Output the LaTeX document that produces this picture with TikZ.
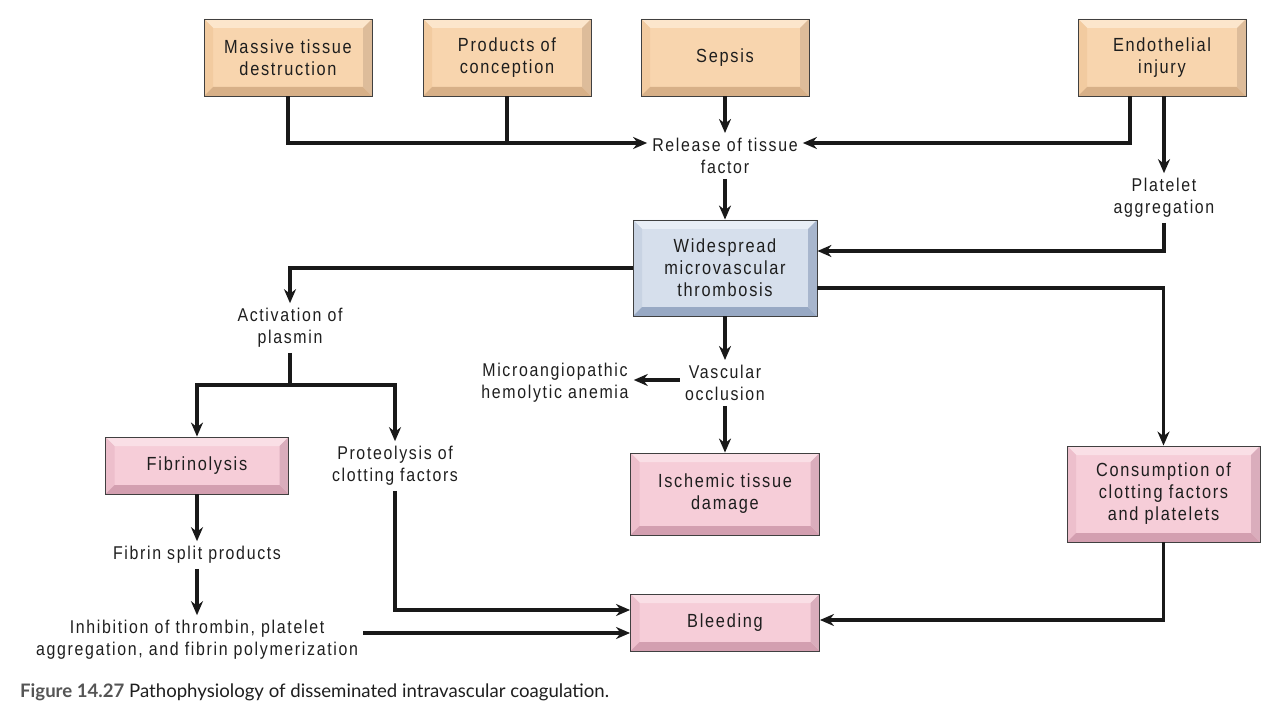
\documentclass[tikz,border=0pt]{standalone}
\usepackage{fontspec}
\setmainfont{Liberation Sans}[FakeStretch=0.86, LetterSpace=9]
\newfontfamily\capfont{Lato}
\usetikzlibrary{arrows.meta}
\definecolor{txt}{HTML}{1E1E1E}
\definecolor{tanF}{HTML}{F8D5AE}\definecolor{tanL}{HTML}{FCE6CC}\definecolor{tanM}{HTML}{F2CBA0}\definecolor{tanD}{HTML}{D7B088}
\definecolor{bluF}{HTML}{D6DFEC}\definecolor{bluL}{HTML}{E8EEF6}\definecolor{bluM}{HTML}{C8D3E3}\definecolor{bluD}{HTML}{98A9C4}
\definecolor{pnkF}{HTML}{F6CDD8}\definecolor{pnkL}{HTML}{FADFE6}\definecolor{pnkM}{HTML}{EDBFCC}\definecolor{pnkD}{HTML}{D39FB0}
\definecolor{capgray}{HTML}{555555}
\tikzset{
  bev/.style n args={4}{rectangle, draw=black!75, line width=0.9pt, fill=#1, text=txt, align=center,
    inner sep=0pt, font=\fontsize{19}{22}\selectfont,
    path picture={
      \coordinate (NW) at (path picture bounding box.north west);
      \coordinate (NE) at (path picture bounding box.north east);
      \coordinate (SW) at (path picture bounding box.south west);
      \coordinate (SE) at (path picture bounding box.south east);
      \fill[#2] (NW) -- (NE) -- ([shift={(-9pt,-9pt)}]NE) -- ([shift={(9pt,-9pt)}]NW) -- cycle;
      \fill[#3] (NW) -- ([shift={(9pt,-9pt)}]NW) -- ([shift={(9pt,9pt)}]SW) -- (SW) -- cycle;
      \fill[#4] (SW) -- (SE) -- ([shift={(-9pt,9pt)}]SE) -- ([shift={(9pt,9pt)}]SW) -- cycle;
      \fill[#4!85!white] (NE) -- (SE) -- ([shift={(-9pt,9pt)}]SE) -- ([shift={(-9pt,-9pt)}]NE) -- cycle;
    }},
  tanbox/.style={bev={tanF}{tanL}{tanM}{tanD}},
  blubox/.style={bev={bluF}{bluL}{bluM}{bluD}},
  pnkbox/.style={bev={pnkF}{pnkL}{pnkM}{pnkD}},
  lbl/.style={text=txt, align=center, inner sep=5pt, font=\fontsize{18.5}{22}\selectfont},
  arr/.style={-{Stealth[length=14pt,width=12pt]}, line width=3.2pt, draw=black!90},
  ln/.style={line width=3.2pt, draw=black!90},
}
\begin{document}
\begin{tikzpicture}[x=1pt,y=-1pt]
\useasboundingbox (0,0) rectangle (1280,722);
% boxes
\node[tanbox, minimum width=168pt, minimum height=77pt] (massive) at (288,57.5) {Massive tissue\\destruction};
\node[tanbox, minimum width=168pt, minimum height=77pt] (products) at (507,57.5) {Products of\\conception};
\node[tanbox, minimum width=168pt, minimum height=77pt] (sepsis) at (725,57.5) {Sepsis};
\node[tanbox, minimum width=168pt, minimum height=77pt] (endo) at (1162,57.5) {Endothelial\\injury};
\node[blubox, minimum width=184pt, minimum height=96pt] (thromb) at (725,268) {Widespread\\microvascular\\thrombosis};
\node[pnkbox, minimum width=183pt, minimum height=57pt] (fibrino) at (197,465.5) {Fibrinolysis};
\node[pnkbox, minimum width=189pt, minimum height=82pt] (ischemic) at (725,494) {Ischemic tissue\\damage};
\node[pnkbox, minimum width=193pt, minimum height=96pt] (consump) at (1163.5,494) {Consumption of\\clotting factors\\and platelets};
\node[pnkbox, minimum width=189pt, minimum height=57pt] (bleeding) at (725,622.5) {Bleeding};
% labels
\node[lbl] (release) at (725,156) {Release of tissue\\factor};
\node[lbl] (platelet) at (1164,198) {Platelet\\aggregation};
\node[lbl] (activation) at (290,328) {Activation of\\plasmin};
\node[lbl] (micro) at (555,383) {Microangiopathic\\hemolytic anemia};
\node[lbl] (vasc) at (725,383) {Vascular\\occlusion};
\node[lbl] (proteo) at (395,466) {Proteolysis of\\clotting factors};
\node[lbl] (fsplit) at (197,555) {Fibrin split products};
\node[lbl] (inhib) at (197,640) {Inhibition of thrombin, platelet\\aggregation, and fibrin polymerization};
\node[anchor=west, inner sep=0pt, font=\capfont\fontsize{18.6}{22}\selectfont, text=txt] (cap) at (20,692)
  {\textcolor{capgray}{\bfseries Figure 14.27} Pathophysiology of disseminated intravascular coagulation.};
% connectors
\coordinate (relW) at ([yshift=13pt]release.west);
\coordinate (relE) at ([yshift=13pt]release.east);
\draw[arr] (massive.south) |- (relW);
\draw[ln] (products.south) -- (products.south |- relW);
\draw[arr] (sepsis.south) -- (release.north);
\draw[arr] ([xshift=-32pt]endo.south) |- (relE);
\draw[arr] (endo.south -| platelet.north) -- (platelet.north);
\draw[arr] (release.south) -- (thromb.north);
\coordinate (thE1) at ([yshift=17pt]thromb.east);
\coordinate (thE2) at ([yshift=-20pt]thromb.east);
\draw[arr] (platelet.south) |- (thE1);
\draw[arr] (thE2) -| (consump.north);
\draw[arr] (thromb.west) -| (activation.north);
\draw[arr] (thromb.south) -- (vasc.north);
\coordinate (vW) at ([yshift=3pt]vasc.west);
\draw[arr] (vW) -- (micro.east |- vW);
\draw[arr] (vasc.south) -- (ischemic.north);
\coordinate (j) at (290,385);
\draw[ln] (activation.south) -- (j);
\draw[arr] (j) -| (fibrino.north);
\draw[arr] (j) -| (proteo.north);
\draw[arr] (fibrino.south) -- (fsplit.north);
\draw[arr] (fsplit.south) -- (inhib.north);
\coordinate (bW1) at ([yshift=12.5pt]bleeding.west);
\coordinate (bW2) at ([yshift=-10.5pt]bleeding.west);
\draw[arr] (proteo.south) |- (bW1);
\draw[arr] (inhib.east |- bW2) -- (bW2);
\draw[arr] (consump.south) |- ([yshift=2.5pt]bleeding.east);
\end{tikzpicture}
\end{document}
